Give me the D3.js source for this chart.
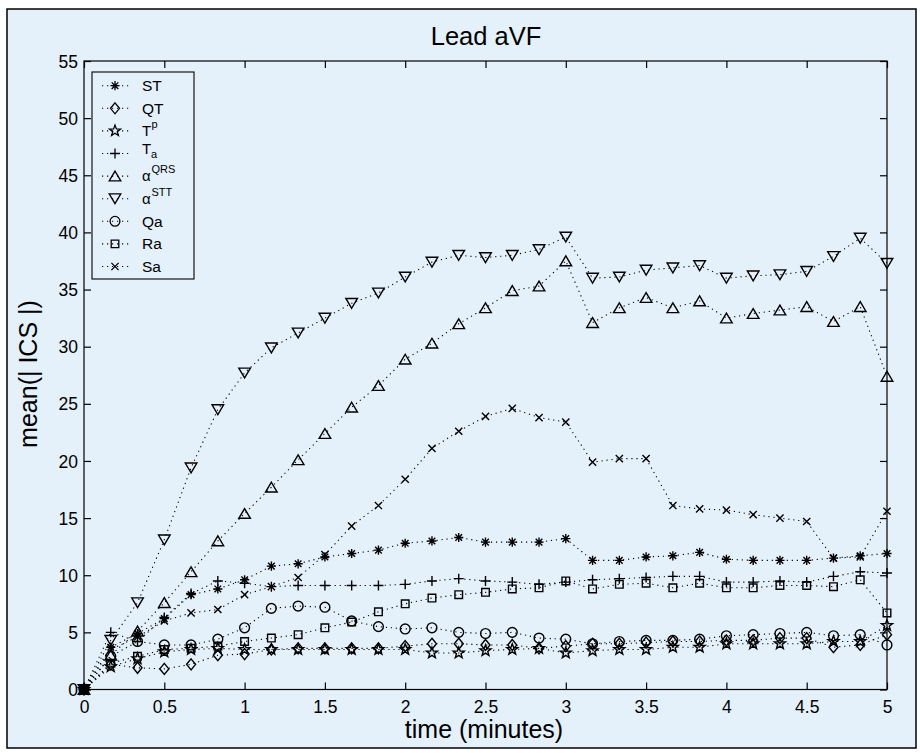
<!DOCTYPE html>
<html>
<head>
<meta charset="utf-8">
<script src="https://cdn.jsdelivr.net/npm/d3@7"></script>
<style>
  html, body { margin: 0; padding: 0; background: #ffffff; }
  svg text { font-family: "Liberation Sans", Arial, Helvetica, sans-serif; fill: #000; }
</style>
</head>
<body>
<svg id="chart" width="920" height="753"></svg>
<script>
// ---- data ----
const timeSeconds = [0,10,20,30,40,50,60,70,80,90,100,110,120,130,140,150,160,170,180,190,200,210,220,230,240,250,260,270,280,290,300];
const xTicks = [0,0.5,1,1.5,2,2.5,3,3.5,4,4.5,5];
const xTickLabels = ["0","0.5","1","1.5","2","2.5","3","3.5","4","4.5","5"];
const yTicks = [0,5,10,15,20,25,30,35,40,45,50,55];
const yTickLabels = ["0","5","10","15","20","25","30","35","40","45","50","55"];

const ST    = [0,3.7,4.9,6.2,8.3,8.8,9.6,10.8,11.0,11.6,11.9,12.2,12.8,13.0,13.3,12.9,12.9,12.9,13.2,11.3,11.3,11.6,11.7,12.0,11.4,11.3,11.3,11.3,11.5,11.7,11.9];
const QT    = [0,2.2,1.9,1.8,2.2,3.0,3.1,3.5,3.6,3.6,3.6,3.6,3.8,4.0,4.0,3.9,3.9,3.6,3.8,4.0,4.0,4.1,4.2,4.2,4.3,4.3,4.5,4.5,3.7,3.9,4.8];
const Tp    = [0,2.0,2.7,3.3,3.5,3.6,3.5,3.5,3.5,3.5,3.5,3.5,3.5,3.2,3.2,3.4,3.5,3.6,3.2,3.4,3.5,3.5,3.7,3.7,4.0,4.0,4.0,4.0,4.2,4.2,5.6];
const Ta    = [0,5.0,4.2,6.3,8.4,9.5,9.3,9.0,9.1,9.1,9.1,9.1,9.2,9.5,9.7,9.5,9.4,9.2,9.4,9.6,9.7,9.8,9.9,9.9,9.4,9.4,9.5,9.4,9.9,10.3,10.2];
const aQRS  = [0,3.0,5.1,7.6,10.3,13.0,15.4,17.7,20.1,22.4,24.7,26.6,28.9,30.3,32.0,33.4,34.9,35.3,37.5,32.1,33.4,34.3,33.4,34.0,32.5,32.9,33.2,33.5,32.2,33.5,27.4];
const aSTT  = [0,4.3,7.6,13.1,19.4,24.5,27.7,29.9,31.2,32.5,33.8,34.7,36.1,37.4,38.0,37.8,38.0,38.5,39.6,36.0,36.1,36.7,36.9,37.1,36.0,36.2,36.3,36.6,37.9,39.5,37.3];
const Qa    = [0,2.9,4.2,3.9,3.9,4.4,5.4,7.1,7.3,7.2,6.0,5.5,5.3,5.4,5.0,4.9,5.0,4.5,4.4,4.0,4.2,4.3,4.3,4.4,4.7,4.8,4.9,5.0,4.7,4.8,3.9];
const Ra    = [0,2.3,2.9,3.5,3.6,3.8,4.2,4.5,4.8,5.4,5.9,6.8,7.5,8.0,8.3,8.5,8.8,8.9,9.5,8.8,9.2,9.3,8.9,9.3,8.9,8.9,9.1,9.1,9.0,9.6,6.7];
const Sa    = [0,3.5,4.6,6.0,6.7,7.0,8.3,9.0,9.8,11.8,14.3,16.1,18.4,21.1,22.6,23.9,24.6,23.8,23.4,19.9,20.2,20.2,16.1,15.8,15.7,15.3,15.0,14.7,11.5,11.6,15.6];

const seriesNames = ["ST","QT","Tp","Ta","aQRS","aSTT","Qa","Ra","Sa"];
const seriesValues = [ST,QT,Tp,Ta,aQRS,aSTT,Qa,Ra,Sa];
const seriesMarkers = ["asterisk","diamond","pentagram","plus","triUp","triDown","circle","square","cross"];

// ---- layout ----
const svg = d3.select("#chart");
const L = 84, R = 887, T = 61, B = 689.5;
const x = d3.scaleLinear().domain([0,5]).range([L,R]);
const y = d3.scaleLinear().domain([0,55]).range([B,T]);

// figure frame
svg.append("rect").attr("x",7).attr("y",9).attr("width",909).attr("height",739)
  .attr("fill","#e4f1fb").attr("stroke","#000").attr("stroke-width",1.5);

// marker shapes
function markerPath(type){
  switch(type){
    case "asterisk": { const r=4.6, d=r*0.72;
      return `M0,${-r}V${r}M${-r},0H${r}M${-d},${-d}L${d},${d}M${-d},${d}L${d},${-d}`; }
    case "diamond": return "M0,-5.5L4.5,0L0,5.5L-4.5,0Z";
    case "pentagram": {
      let p=""; for(let i=0;i<10;i++){ const rr = i%2===0?5.8:2.4; const a=-Math.PI/2+i*Math.PI/5;
        p += (i===0?"M":"L")+(rr*Math.cos(a)).toFixed(2)+","+(rr*Math.sin(a)).toFixed(2); }
      return p+"Z"; }
    case "plus": return "M-5,0H5M0,-5V5";
    case "triUp": return "M0,-5L5.8,4.8L-5.8,4.8Z";
    case "triDown": return "M0,5L5.8,-4.8L-5.8,-4.8Z";
    case "circle": return "M4.9,0A4.9,4.9 0 1,1 -4.9,0A4.9,4.9 0 1,1 4.9,0Z";
    case "square": return "M-3.8,-3.8H3.8V3.8H-3.8Z";
    case "cross": return "M-3.6,-3.6L3.6,3.6M-3.6,3.6L3.6,-3.6";
  }
}

const times = timeSeconds.map(s => s/60);
const line = d3.line().x(d=>x(d[0])).y(d=>y(d[1]));

const plot = svg.append("g");
seriesValues.forEach((vals, si) => {
  const pts = vals.map((v,i)=>[times[i], v]);
  plot.append("path").datum(pts).attr("d", line)
    .attr("fill","none").attr("stroke","#000").attr("stroke-width",1.1)
    .attr("stroke-dasharray","1.2,3.8");
  plot.selectAll(null).data(pts).enter().append("path")
    .attr("transform", d=>`translate(${x(d[0])},${y(d[1])})`)
    .attr("d", markerPath(seriesMarkers[si]))
    .attr("fill","none").attr("stroke","#000").attr("stroke-width",1.4);
});

// axes box
svg.append("rect").attr("x",L).attr("y",T).attr("width",R-L).attr("height",B-T)
  .attr("fill","none").attr("stroke","#000").attr("stroke-width",1.2);

const tickLen = 7;
const xBottom = d3.axisBottom(x).tickValues(xTicks).tickSize(-tickLen).tickFormat((d,i)=>xTickLabels[i]).tickPadding(12);
const gx = svg.append("g").attr("transform",`translate(0,${B})`).call(xBottom);
const xTop = d3.axisTop(x).tickValues(xTicks).tickSize(-tickLen).tickFormat("");
const gxt = svg.append("g").attr("transform",`translate(0,${T})`).call(xTop);
const yLeft = d3.axisLeft(y).tickValues(yTicks).tickSize(-tickLen).tickFormat((d,i)=>yTickLabels[i]).tickPadding(12);
const gy = svg.append("g").attr("transform",`translate(${L},0)`).call(yLeft);
const yRight = d3.axisRight(y).tickValues(yTicks).tickSize(-tickLen).tickFormat("");
const gyr = svg.append("g").attr("transform",`translate(${R},0)`).call(yRight);
[gx,gxt,gy,gyr].forEach(g=>{
  g.select(".domain").remove();
  g.selectAll(".tick line").attr("stroke","#000").attr("stroke-width",1.2);
  g.selectAll(".tick text").attr("font-size",17.5).attr("font-family","Liberation Sans, Arial, sans-serif").attr("fill","#000");
});
gx.selectAll(".tick text").attr("dy",null).attr("y",23);
gy.selectAll(".tick text").attr("dy","0.35em").attr("x",-6);

// title and labels
svg.append("text").attr("x",486).attr("y",45).attr("text-anchor","middle").attr("font-size",25.5).text("Lead aVF");
svg.append("text").attr("x",484).attr("y",738).attr("text-anchor","middle").attr("font-size",25).text("time (minutes)");
svg.append("text").attr("transform","translate(37,374) rotate(-90)").attr("text-anchor","middle").attr("font-size",25).text("mean(| ICS |)");

// legend
const lg = svg.append("g");
lg.append("rect").attr("x",92).attr("y",72).attr("width",102).attr("height",207)
  .attr("fill","none").attr("stroke","#000").attr("stroke-width",1.1);
const legendLabels = [
  {main:"ST"}, {main:"QT"}, {main:"T", sup:"p"}, {main:"T", sub:"a"},
  {main:"α", sup:"QRS"}, {main:"α", sup:"STT"}, {main:"Qa"}, {main:"Ra"}, {main:"Sa"}
];
seriesNames.forEach((n,i)=>{
  const cy = 85.7 + i*22.6;
  lg.append("line").attr("x1",102).attr("x2",129).attr("y1",cy).attr("y2",cy)
    .attr("stroke","#000").attr("stroke-width",1.1).attr("stroke-dasharray","1.2,3.8");
  lg.append("path").attr("transform",`translate(115,${cy})`).attr("d",markerPath(seriesMarkers[i]))
    .attr("fill","none").attr("stroke","#000").attr("stroke-width",1.3);
  const lb = legendLabels[i];
  if(lb.sub){
    lg.append("text").attr("x",142).attr("y",cy).attr("font-size",15).text(lb.main);
    lg.append("text").attr("x",151).attr("y",cy+4).attr("font-size",11).text(lb.sub);
  } else if(lb.sup){
    lg.append("text").attr("x",142).attr("y",cy+5).attr("font-size",15).text(lb.main);
    lg.append("text").attr("x",151.5).attr("y",cy-3).attr("font-size",11).text(lb.sup);
  } else {
    lg.append("text").attr("x",142).attr("y",cy+5.5).attr("font-size",15.5).text(lb.main);
  }
});
</script>
</body>
</html>
